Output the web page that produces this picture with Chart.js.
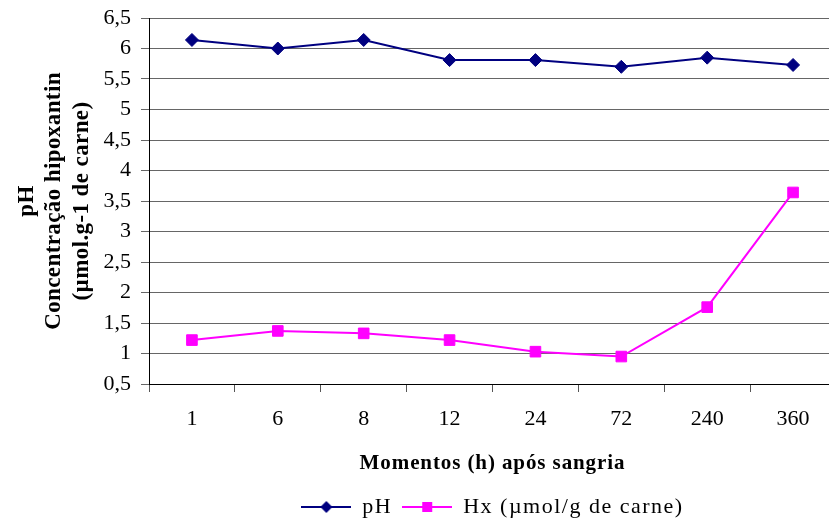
<!DOCTYPE html>
<html>
<head>
<meta charset="utf-8">
<script src="https://cdn.jsdelivr.net/npm/chart.js@4/dist/chart.umd.min.js"></script>
<style>
html,body{margin:0;padding:0;background:#fff;overflow:hidden;}
#wrap{width:850px;height:525px;}
</style>
</head>
<body>
<div id="wrap"><canvas id="c" width="850" height="525"></canvas></div>
<script>
const categories = ['1', '6', '8', '12', '24', '72', '240', '360'];
const phValues = [6.14, 6.0, 6.14, 5.81, 5.81, 5.70, 5.85, 5.73];
const hxValues = [1.22, 1.37, 1.33, 1.22, 1.03, 0.95, 1.76, 3.64];
const seriesNames = ['pH', 'Hx (\u00b5mol/g de carne)'];
const yTitle = ['pH', 'Concentra\u00e7\u00e3o hipoxantin', '(\u00b5mol.g-1 de carne)'];
const xTitle = 'Momentos (h) ap\u00f3s sangria';

const SERIF = "'Liberation Serif', 'Times New Roman', serif";

// letter spacing tweaks for legend and axis titles
function withSpacing(fn, sp) {
  return function () {
    const ctx = this.ctx;
    const prev = ctx.letterSpacing;
    try { ctx.letterSpacing = sp; } catch (e) {}
    const r = fn.apply(this, arguments);
    try { ctx.letterSpacing = prev || '0px'; } catch (e) {}
    return r;
  };
}
if (Chart.Legend && Chart.Legend._element) {
  const LP = Chart.Legend._element.prototype;
  LP.fit = withSpacing(LP.fit, '1.5px');
  LP.draw = withSpacing(LP.draw, '1.5px');
}
if (Chart.Scale) {
  const SP = Chart.Scale.prototype;
  const origTitle = SP.drawTitle;
  SP.drawTitle = function () {
    const sp = this.axis === 'y' ? '0.4px' : '0.9px';
    return withSpacing(origTitle, sp).apply(this, arguments);
  };
}

function legendIcon(color, shape) {
  const cv = document.createElement('canvas');
  cv.width = 50; cv.height = 16;
  const g = cv.getContext('2d');
  g.strokeStyle = color; g.lineWidth = 2;
  g.beginPath(); g.moveTo(0, 8); g.lineTo(50, 8); g.stroke();
  g.fillStyle = color;
  g.beginPath();
  if (shape === 'diamond') {
    g.moveTo(25, 2); g.lineTo(31, 8); g.lineTo(25, 14); g.lineTo(19, 8); g.closePath();
  } else {
    g.rect(20, 3, 10, 10);
  }
  g.fill();
  return cv;
}
const icons = [legendIcon('#000080', 'diamond'), legendIcon('#FF00FF', 'square')];

new Chart(document.getElementById('c'), {
  type: 'line',
  data: {
    labels: categories,
    datasets: [
      {
        label: seriesNames[0], data: phValues,
        borderColor: '#000080', backgroundColor: '#000080',
        borderWidth: 2, pointStyle: 'rectRot', pointRadius: 6.5,
        pointBorderWidth: 1, pointHoverRadius: 6.5, tension: 0
      },
      {
        label: seriesNames[1], data: hxValues,
        borderColor: '#FF00FF', backgroundColor: '#FF00FF',
        borderWidth: 2, pointStyle: 'rect', pointRadius: 7.5,
        pointBorderWidth: 1, pointHoverRadius: 7.5, tension: 0
      }
    ]
  },
  options: {
    responsive: false,
    devicePixelRatio: 1,
    animation: false,
    layout: { padding: { top: 18, right: 14, left: 0, bottom: -3 } },
    plugins: {
      tooltip: { enabled: false },
      legend: {
        position: 'bottom',
        fullSize: false,
        labels: {
          usePointStyle: true,
          pointStyleWidth: 50,
          color: '#000',
          padding: 10,
          font: { family: SERIF, size: 22 },
          generateLabels(chart) {
            const items = Chart.defaults.plugins.legend.labels.generateLabels(chart);
            items.forEach((it, i) => { it.pointStyle = icons[i]; });
            return items;
          }
        }
      }
    },
    scales: {
      x: {
        type: 'category',
        offset: true,
        afterFit(s) { s.height = 102; s.paddingLeft = 0; s.paddingRight = 0; },
        border: { display: true, color: '#000', width: 1 },
        grid: { offset: true, drawOnChartArea: false, drawTicks: true, tickLength: 8, color: '#555' },
        ticks: { color: '#000', padding: 14, font: { family: SERIF, size: 22 }, maxRotation: 0, autoSkip: false },
        title: { display: true, text: xTitle, color: '#000', font: { family: SERIF, size: 21, weight: 'bold' }, padding: { top: 0, bottom: 10 } }
      },
      y: {
        min: 0.5, max: 6.5,
        afterFit(s) { s.width = 149; s.paddingTop = 0; s.paddingBottom = 0; },
        border: { display: true, color: '#000', width: 1 },
        grid: { color: '#666', lineWidth: 1, tickLength: 8, drawTicks: true },
        ticks: {
          stepSize: 0.5, color: '#000', padding: 10,
          font: { family: SERIF, size: 22 },
          callback: v => String(v).replace('.', ',')
        },
        title: {
          display: true, text: yTitle, color: '#000',
          font: { family: SERIF, size: 23, weight: 'bold', lineHeight: '27.5px' },
          padding: { top: 13, bottom: 0 }
        }
      }
    }
  }
});
</script>
</body>
</html>
